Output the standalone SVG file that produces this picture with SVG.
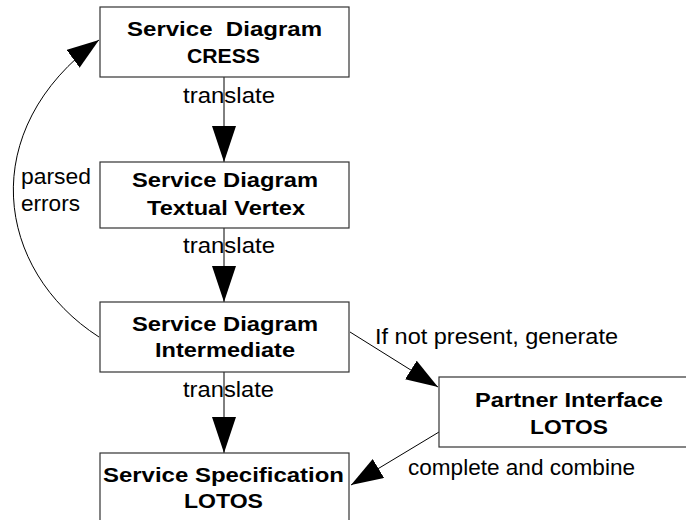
<svg xmlns="http://www.w3.org/2000/svg" width="686" height="520" viewBox="0 0 686 520">
<style>
.box{fill:#fff;stroke:#333;stroke-width:1.2}
.b{font-family:"Liberation Sans",Arial,sans-serif;font-size:21px;font-weight:bold;fill:#000}
.r{font-family:"Liberation Sans",Arial,sans-serif;font-size:22px;fill:#000}
.c{fill:none;stroke:#000;stroke-width:1}
</style>
<defs>
<marker id="ah" markerUnits="userSpaceOnUse" markerWidth="36" markerHeight="24" refX="36" refY="12" orient="auto" viewBox="0 0 36 24">
<path d="M0,0 L36,12 L0,24 z" fill="#000"/>
</marker>
<marker id="ah2" markerUnits="userSpaceOnUse" markerWidth="32" markerHeight="22" refX="32" refY="11" orient="auto" viewBox="0 0 32 22">
<path d="M0,0 L32,11 L0,22 z" fill="#000"/>
</marker>
</defs>
<rect width="686" height="520" fill="#fff"/>
<g id="connectors">
<line class="c" x1="224" y1="77" x2="224" y2="162" marker-end="url(#ah)"/>
<line class="c" x1="224" y1="228" x2="224" y2="302" marker-end="url(#ah)"/>
<line class="c" x1="224" y1="372" x2="224" y2="453" marker-end="url(#ah)"/>
<line class="c" x1="350" y1="332" x2="438" y2="387" marker-end="url(#ah2)"/>
<line class="c" x1="439" y1="432" x2="351" y2="485" marker-end="url(#ah2)"/>
<path class="c" d="M99,337 C-5,270 -25,130 99,40" marker-end="url(#ah2)"/>
<text class="r" x="183" y="103" textLength="92" lengthAdjust="spacingAndGlyphs">translate</text>
<text class="r" x="183" y="253" textLength="92" lengthAdjust="spacingAndGlyphs">translate</text>
<text class="r" x="183" y="397" textLength="91" lengthAdjust="spacingAndGlyphs">translate</text>
<text class="r" x="21" y="184" textLength="70" lengthAdjust="spacingAndGlyphs">parsed</text>
<text class="r" x="21" y="211" textLength="59" lengthAdjust="spacingAndGlyphs">errors</text>
<text class="r" x="375" y="344" textLength="243" lengthAdjust="spacingAndGlyphs">If not present, generate</text>
<text class="r" x="408" y="475" textLength="227" lengthAdjust="spacingAndGlyphs">complete and combine</text>
</g>
<g id="cress">
<rect class="box" x="100" y="7" width="249" height="70"/>
<text class="b" x="127" y="36" textLength="195" lengthAdjust="spacingAndGlyphs" xml:space="preserve">Service  Diagram</text>
<text class="b" x="187" y="63" textLength="73" lengthAdjust="spacingAndGlyphs">CRESS</text>
</g>
<g id="textual">
<rect class="box" x="100" y="162" width="249" height="66"/>
<text class="b" x="132" y="187" textLength="186" lengthAdjust="spacingAndGlyphs">Service Diagram</text>
<text class="b" x="147" y="215" textLength="158" lengthAdjust="spacingAndGlyphs">Textual Vertex</text>
</g>
<g id="intermediate">
<rect class="box" x="100" y="302" width="249" height="70"/>
<text class="b" x="132" y="331" textLength="186" lengthAdjust="spacingAndGlyphs">Service Diagram</text>
<text class="b" x="155" y="357" textLength="140" lengthAdjust="spacingAndGlyphs">Intermediate</text>
</g>
<g id="spec">
<rect class="box" x="100" y="453" width="249" height="75"/>
<text class="b" x="103" y="482" textLength="241" lengthAdjust="spacingAndGlyphs">Service Specification</text>
<text class="b" x="184" y="508" textLength="79" lengthAdjust="spacingAndGlyphs">LOTOS</text>
</g>
<g id="partner">
<rect class="box" x="439" y="377" width="260" height="70"/>
<text class="b" x="475" y="407" textLength="188" lengthAdjust="spacingAndGlyphs">Partner Interface</text>
<text class="b" x="530" y="434" textLength="78" lengthAdjust="spacingAndGlyphs">LOTOS</text>
</g>
</svg>
